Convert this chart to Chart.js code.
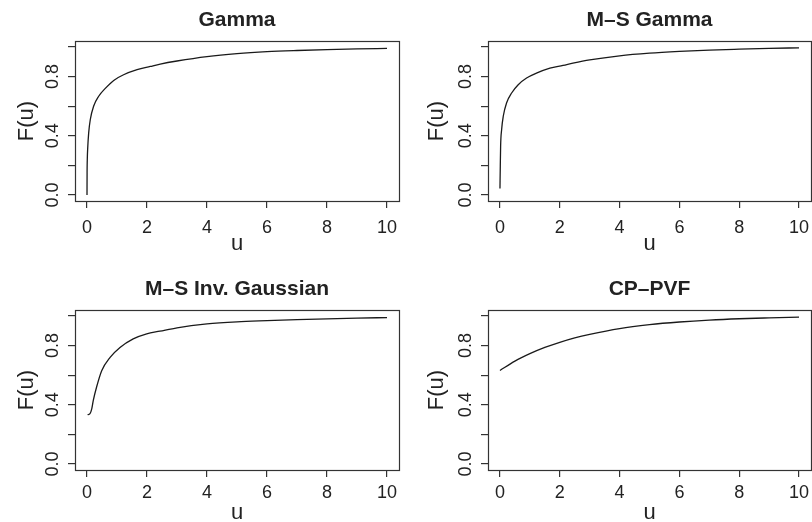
<!DOCTYPE html>
<html lang="en">
<head>
    <meta charset="UTF-8">
    <title>F(u) panels</title>
    <script src="https://cdn.jsdelivr.net/npm/chart.js"></script>
    <style>
        body { margin: 0; background: #fff; }
        #wrap { position: relative; width: 812px; height: 522px; }
        canvas { position: absolute; }
    </style>
</head>
<body>
    <div id="wrap">
        <canvas id="c1" width="406" height="261" style="left:0;top:0"></canvas>
        <canvas id="c2" width="406" height="261" style="left:406px;top:0"></canvas>
        <canvas id="c3" width="406" height="261" style="left:0;top:261px"></canvas>
        <canvas id="c4" width="406" height="261" style="left:406px;top:261px"></canvas>
    </div>

    <script>
        // values
        const titles = ['Gamma', 'M\u2013S Gamma', 'M\u2013S Inv. Gaussian', 'CP\u2013PVF'];
        const xTicks = [0, 2, 4, 6, 8, 10];
        const yTicks = [0, 0.2, 0.4, 0.6, 0.8, 1.0];
        const yLabels = ['0.0', '', '0.4', '', '0.8', ''];

        const gammaU = [0, 0.003, 0.011, 0.022, 0.056, 0.11, 0.22, 0.39, 0.61, 0.89, 1.22, 1.67, 2.11, 2.44, 3, 4, 5, 6, 7, 8, 9, 10];
        const gammaF = [0, 0.15, 0.25, 0.31, 0.42, 0.51, 0.60, 0.667, 0.72, 0.774, 0.812, 0.846, 0.868, 0.884, 0.905, 0.935, 0.955, 0.968, 0.976, 0.982, 0.987, 0.99];

        const msGammaU = [0, 0.011, 0.022, 0.056, 0.11, 0.22, 0.39, 0.61, 0.89, 1.22, 1.67, 2.11, 2.44, 3, 4, 5, 6, 7, 8, 9, 10];
        const msGammaF = [0.045, 0.197, 0.33, 0.443, 0.532, 0.622, 0.689, 0.745, 0.79, 0.823, 0.857, 0.875, 0.89, 0.912, 0.94, 0.958, 0.97, 0.979, 0.985, 0.99, 0.994];

        const msIgU = [0.02, 0.1, 0.16, 0.21, 0.32, 0.49, 0.77, 1.1, 1.54, 1.99, 2.43, 3, 4, 5, 6, 7, 8, 9, 10];
        const msIgF = [0.333, 0.34, 0.374, 0.43, 0.52, 0.63, 0.72, 0.787, 0.845, 0.879, 0.897, 0.92, 0.946, 0.96, 0.968, 0.975, 0.98, 0.985, 0.989];

        const cpPvfU = [0, 0.5, 1, 1.5, 2, 2.5, 3, 4, 5, 6, 7, 8, 9, 10];
        const cpPvfF = [0.632, 0.695, 0.745, 0.787, 0.822, 0.852, 0.876, 0.915, 0.941, 0.959, 0.972, 0.981, 0.987, 0.992];

        const FONT = '"Liberation Sans", Arial, Helvetica, sans-serif';
        const INK = '#222';

        // layout of each panel inside its 406x261 cell
        const panels = [
            { id: 'c1', u: gammaU, f: gammaF, left: 75, right: 7, top: 41, bottom: 60, tickBase: 32, labOff: 42 },
            { id: 'c2', u: msGammaU, f: msGammaF, left: 82, right: 1, top: 41, bottom: 60, tickBase: 32, labOff: 45 },
            { id: 'c3', u: msIgU, f: msIgF, left: 75, right: 7, top: 49, bottom: 52, tickBase: 28, labOff: 42 },
            { id: 'c4', u: cpPvfU, f: cpPvfF, left: 82, right: 1, top: 49, bottom: 52, tickBase: 28, labOff: 45 }
        ];

        const rBase = {
            id: 'rBase',
            afterDraw(chart, args, opts) {
                const ctx = chart.ctx;
                const a = chart.chartArea;
                const xs = chart.scales.x, ys = chart.scales.y;
                ctx.save();
                ctx.strokeStyle = '#333';
                ctx.lineWidth = 1.2;
                ctx.strokeRect(a.left + 0.5, a.top + 0.5, a.right - a.left, a.bottom - a.top);

                ctx.fillStyle = INK;
                ctx.font = '18px ' + FONT;
                ctx.textAlign = 'center';
                ctx.textBaseline = 'alphabetic';
                xTicks.forEach(v => {
                    ctx.fillText(String(v), xs.getPixelForValue(v), a.bottom + opts.tickBase);
                });
                yTicks.forEach((v, i) => {
                    if (!yLabels[i]) return;
                    ctx.save();
                    ctx.translate(a.left - 17, ys.getPixelForValue(v));
                    ctx.rotate(-Math.PI / 2);
                    ctx.fillText(yLabels[i], 0, 0);
                    ctx.restore();
                });

                ctx.font = '22px ' + FONT;
                ctx.fillText('u', (a.left + a.right) / 2, a.bottom + 49);
                ctx.save();
                ctx.translate(a.left - opts.labOff, (a.top + a.bottom) / 2);
                ctx.rotate(-Math.PI / 2);
                ctx.fillText('F(u)', 0, 0);
                ctx.restore();

                ctx.font = 'bold 21px ' + FONT;
                ctx.fillText(opts.title, (a.left + a.right) / 2, a.top - 15);
                ctx.restore();
            }
        };

        function plotPanel(p, title) {
            const ctx = document.getElementById(p.id).getContext('2d');
            return new Chart(ctx, {
                type: 'scatter',
                data: {
                    datasets: [{
                        data: p.u.map((u, i) => ({ x: u, y: p.f[i] })),
                        showLine: true,
                        borderColor: '#1a1a1a',
                        borderWidth: 1.3,
                        pointRadius: 0,
                        cubicInterpolationMode: 'monotone',
                        fill: false
                    }]
                },
                options: {
                    responsive: false,
                    animation: false,
                    devicePixelRatio: 1,
                    layout: { padding: { left: 0, right: p.right, top: p.top, bottom: 0 } },
                    plugins: {
                        legend: { display: false },
                        tooltip: { enabled: false },
                        rBase: { title: title, tickBase: p.tickBase, labOff: p.labOff }
                    },
                    scales: {
                        x: {
                            type: 'linear',
                            min: -0.4,
                            max: 10.4,
                            afterBuildTicks: s => { s.ticks = xTicks.map(v => ({ value: v })); },
                            afterFit: s => { s.height = p.bottom; },
                            ticks: { display: false },
                            border: { display: false },
                            grid: { drawOnChartArea: false, drawTicks: true, tickLength: 7, color: '#333', lineWidth: 1.2 }
                        },
                        y: {
                            type: 'linear',
                            min: -0.04,
                            max: 1.04,
                            afterBuildTicks: s => { s.ticks = yTicks.map(v => ({ value: v })); },
                            afterFit: s => { s.width = p.left; },
                            ticks: { display: false },
                            border: { display: false },
                            grid: { drawOnChartArea: false, drawTicks: true, tickLength: 7, color: '#333', lineWidth: 1.2 }
                        }
                    }
                },
                plugins: [rBase]
            });
        }

        panels.forEach((p, i) => plotPanel(p, titles[i]));
    </script>
</body>
</html>
